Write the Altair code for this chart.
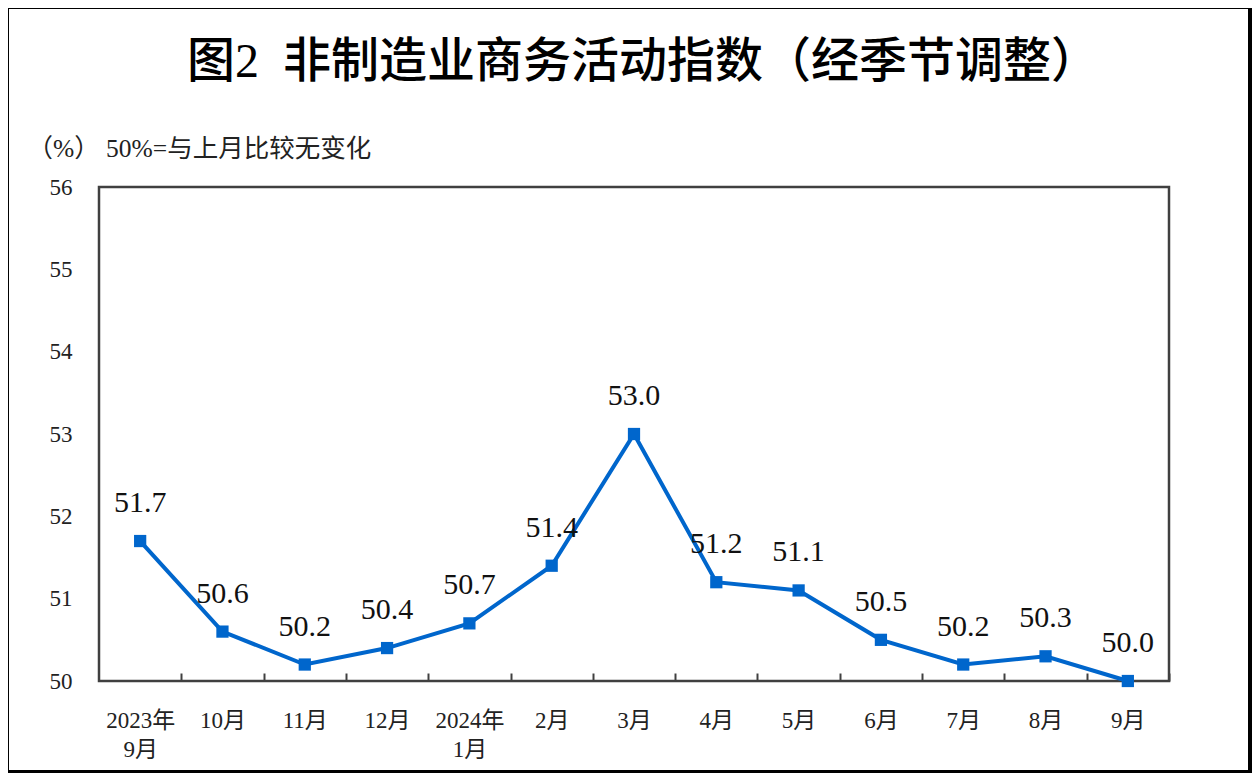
import altair as alt
import pandas as pd

months = ["2023年\n9月", "10月", "11月", "12月", "2024年\n1月", "2月", "3月",
          "4月", "5月", "6月", "7月", "8月", "9月"]
values = [51.7, 50.6, 50.2, 50.4, 50.7, 51.4, 53.0, 51.2, 51.1, 50.5, 50.2, 50.3, 50.0]
y_ticks = [50, 51, 52, 53, 54, 55, 56]

title_text = "图2\u2002非制造业商务活动指数（经季节调整）"
unit_text = "（%） 50%=与上月比较无变化"

df = pd.DataFrame({"month": months, "value": values})
df["label"] = df["value"].map(lambda v: f"{v:.1f}")

W, H = 1070, 494
BLUE = "#0066CC"
SERIF = "'Liberation Serif', 'Times New Roman', 'Noto Sans CJK SC', serif"
step = W / len(months)

x_enc = alt.X(
    "month:N", sort=months,
    scale=alt.Scale(type="point", padding=0.5),
    axis=alt.Axis(
        title=None, domain=False, ticks=True, tickSize=8, tickWidth=2,
        tickColor="#404040", offset=-8, tickOffset=step / 2,
        labelOffset=-step / 2, labelExpr="split(datum.label, '\\n')",
        labelFont=SERIF, labelFontSize=23, labelColor="#222222",
        labelBaseline="top", labelPadding=28, labelLineHeight=29,
        labelAngle=0, grid=False, zindex=1,
    ),
)
y_enc = alt.Y(
    "value:Q",
    scale=alt.Scale(domain=[50, 56], nice=False, zero=False),
    axis=alt.Axis(
        values=y_ticks, domain=False, ticks=False, tickSize=0, grid=False,
        labelFont=SERIF, labelFontSize=23, labelColor="#222222",
        labelPadding=27, format="d",
        title=unit_text, titleAngle=0, titleAlign="left", titleBaseline="middle",
        titleX=-72, titleY=-39, titleFont=SERIF, titleFontSize=25.5,
        titleFontWeight="normal", titleColor="#222222", zindex=1,
    ),
)

dummy = pd.DataFrame({"k": [0]})

bg = alt.Chart(dummy).mark_rect(color="white").encode(
    x=alt.value(-90), x2=alt.value(1149), y=alt.value(-178), y2=alt.value(583)
)
frame = alt.Chart(dummy).mark_rect(filled=False, stroke="#404040", strokeWidth=2.5).encode(
    x=alt.value(0), x2=alt.value(W), y=alt.value(0), y2=alt.value(H)
)
title = alt.Chart(dummy).mark_text(
    font="'Liberation Serif', 'Noto Sans CJK SC'", fontSize=48, fontWeight=500,
    color="#000000", align="center", baseline="middle",
).encode(x=alt.value(W / 2 + 9), y=alt.value(-124), text=alt.value(title_text))

base = alt.Chart(df)
line = base.mark_line(color=BLUE, strokeWidth=4).encode(x=x_enc, y=y_enc)
pts = base.mark_square(color=BLUE, size=150, opacity=1).encode(
    x=alt.X("month:N", sort=months), y="value:Q"
)
txt = base.mark_text(font=SERIF, fontSize=30, color="#111111", baseline="middle", dy=-38).encode(
    x=alt.X("month:N", sort=months), y="value:Q", text="label:N"
)

chart = alt.layer(bg, frame, title, line, pts, txt).properties(
    width=W, height=H,
    background="black",
    autosize=alt.AutoSizeParams(type="none"),
    padding={"left": 91, "top": 179, "right": 83, "bottom": 92},
).configure_view(strokeWidth=0)

chart.save("out.html", embed_options={"renderer": "svg", "actions": False})
